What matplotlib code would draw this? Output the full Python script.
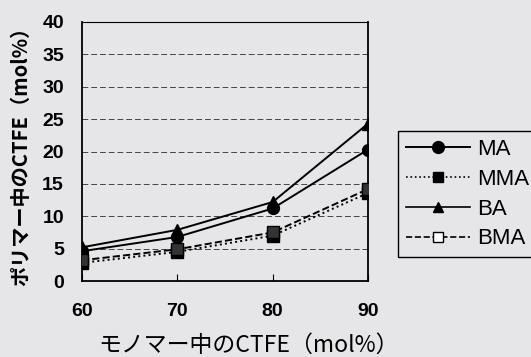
import matplotlib
matplotlib.use("Agg")
from matplotlib import pyplot as plt
from matplotlib.lines import Line2D

plt.rcParams['font.family'] = ['Noto Sans CJK JP', 'DejaVu Sans']

monomer = [60, 70, 80, 90]
ma = [4.6, 6.8, 11.2, 20.3]
mma = [2.8, 4.5, 7.0, 13.6]
ba = [5.2, 7.9, 12.2, 24.3]
bma = [3.2, 4.9, 7.5, 14.2]

bg = '#e6e6e8'
fig = plt.figure(figsize=(5.31, 3.57), dpi=100, facecolor=bg)
ax = fig.add_axes([82/531, 1-281/357, (368-82)/531, (281-22)/357])
ax.set_facecolor(bg)

# horizontal dashed gridlines
for yv in range(5, 40, 5):
    ax.axhline(yv, color='#444444', lw=0.7, ls=(0, (6, 3)), zorder=1)

ax.plot(monomer, ma, color='black', lw=1.4, marker='o', ms=8.5, label='MA', zorder=3)
ax.plot(monomer, mma, color='black', lw=1.4, ls=':', marker='s', ms=8.5, label='MMA', zorder=3)
ax.plot(monomer, ba, color='black', lw=1.4, marker='^', ms=8.5, label='BA', zorder=3)
ax.plot(monomer, bma, color='black', lw=1.4, ls='--', marker='s', ms=8.5,
        mfc='#333333', mec='black', label='BMA', zorder=3)

ax.set_xlim(60, 90)
ax.set_ylim(0, 40)
ax.set_xticks(monomer)
ax.set_yticks(range(0, 45, 5))
ax.tick_params(axis='x', direction='in', length=5, pad=16)
ax.tick_params(axis='y', length=0, pad=13)
for lab in ax.get_xticklabels() + ax.get_yticklabels():
    lab.set_family('Liberation Sans')
    lab.set_fontweight('bold')
    lab.set_fontsize(14)
for s in ax.spines.values():
    s.set_linewidth(1.3)
ax.spines['top'].set_linewidth(0.8)

ax.set_xlabel('モノマー中のCTFE（mol%）', fontsize=16.5)
ax.xaxis.set_label_coords((249-82)/(368-82), -(345-281)/(281-22), transform=ax.transAxes)
ax.xaxis.label.set_va('center')
ax.set_ylabel('ポリマー中のCTFE（mol%）', fontsize=14.5, fontweight='bold', labelpad=8)

handles = [
    Line2D([], [], color='black', lw=1.4, marker='o', ms=8.5),
    Line2D([], [], color='black', lw=1.2, ls=':', marker='s', ms=7),
    Line2D([], [], color='black', lw=1.2, marker='^', ms=7.5),
    Line2D([], [], color='black', lw=1.2, ls='--', marker='s', ms=7, mfc='white'),
]
leg = fig.legend(handles, ['MA', 'MMA', 'BA', 'BMA'], loc='upper left',
                 bbox_to_anchor=(398/531, 1-131/357),
                 prop={'family': 'Liberation Sans', 'size': 16},
                 handlelength=2.9, handletextpad=0.3, labelspacing=0.4,
                 borderpad=0.35, borderaxespad=0,
                 fancybox=False, framealpha=1, facecolor=bg, edgecolor='black')
leg.get_frame().set_linewidth(1.0)

fig.savefig('out.png', dpi=100, facecolor=bg)
